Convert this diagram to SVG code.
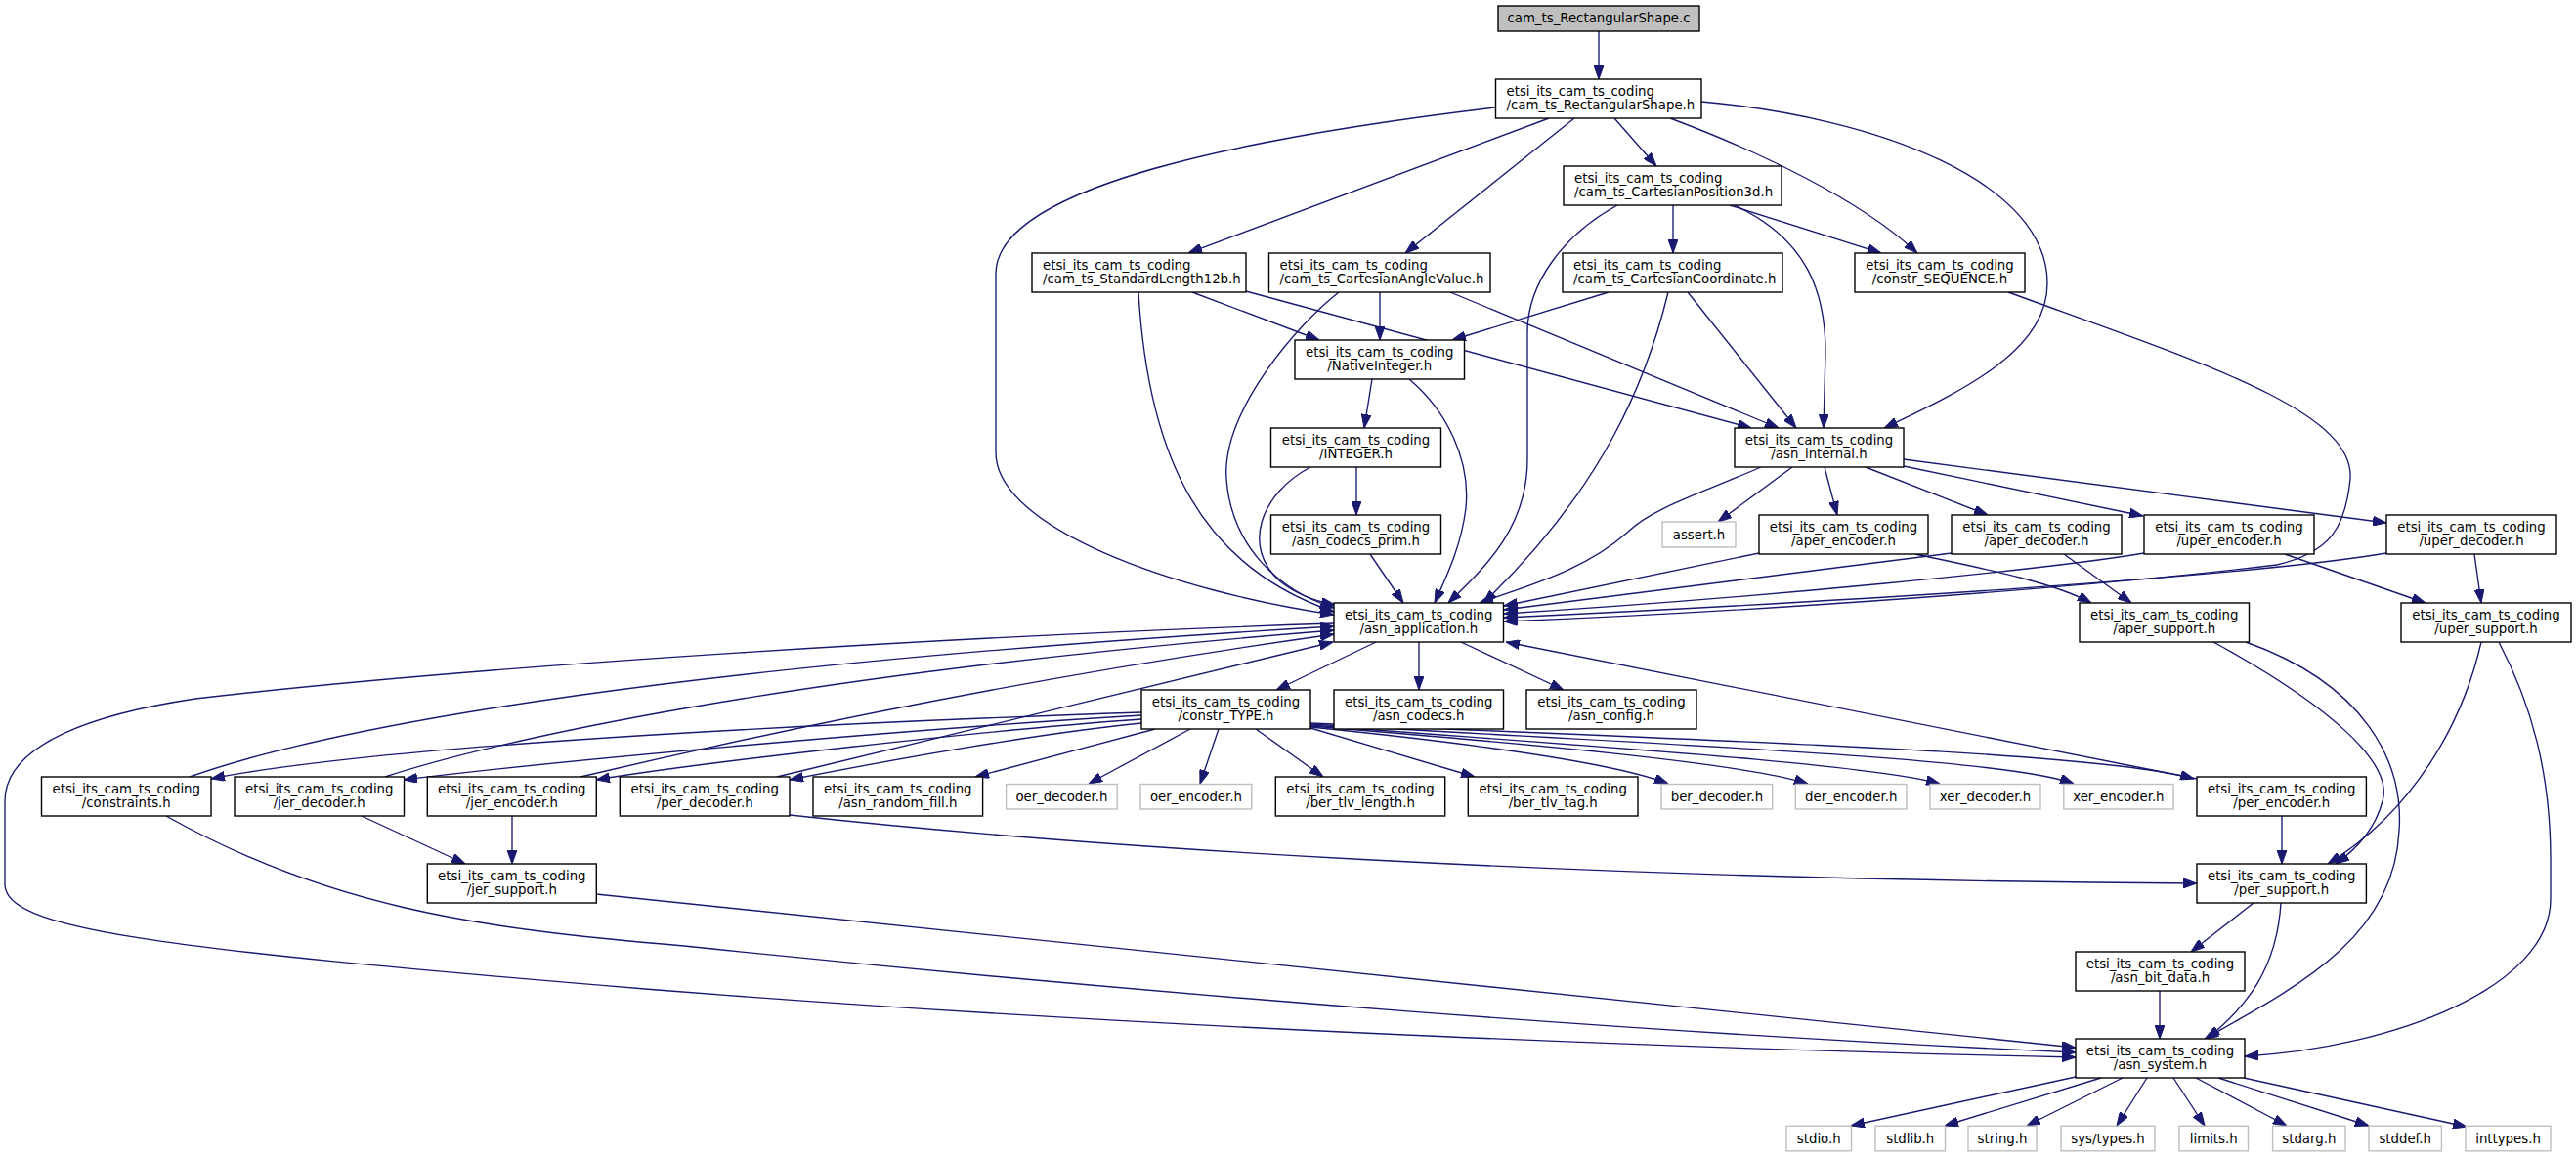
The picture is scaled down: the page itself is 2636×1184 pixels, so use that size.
<svg xmlns="http://www.w3.org/2000/svg" width="2636" height="1184" viewBox="0 0 2636 1184">
<defs>
<marker id="ah" markerWidth="14" markerHeight="10" refX="14" refY="5" orient="auto" markerUnits="userSpaceOnUse">
<path d="M0,0 L14,5 L0,10 z" fill="#191970" stroke="#191970" stroke-width="1"/>
</marker>
</defs>
<style>
.n{fill:#ffffff;stroke:#000000;stroke-width:1.4}
.g{fill:#ffffff;stroke:#bfbfbf;stroke-width:1.4}
.r{fill:#bfbfbf;stroke:#000000;stroke-width:1.4}
text{font-family:"DejaVu Sans","Liberation Sans",sans-serif;font-size:13.3px;fill:#000000}
.m{text-anchor:middle}
.s{text-anchor:start}
#edges path{fill:none;stroke:#191970;stroke-width:1.35;marker-end:url(#ah)}
</style>
<rect x="0" y="0" width="2636" height="1184" fill="#ffffff"/>
<g id="edges">
<path d="M1636,32 L1636,81"/>
<path d="M1530,110 C1280,140 1019,190 1019,280 L1019,463 C1019,540 1200,605 1365,629"/>
<path d="M1585,121 L1216,259"/>
<path d="M1611,121 L1438,259"/>
<path d="M1652,121 L1695,170"/>
<path d="M1709,121 C1800,155 1905,205 1962,259"/>
<path d="M1741,104 C1920,120 2095,185 2095,290 C2095,355 2020,395 1928,438"/>
<path d="M1655,210 C1600,240 1563,290 1563,340 L1563,470 C1563,540 1520,580 1482,617"/>
<path d="M1712,210 L1712,259"/>
<path d="M1770,210 L1925,259"/>
<path d="M1775,210 C1850,245 1868,300 1868,360 L1866,438"/>
<path d="M1220,299 L1350,348"/>
<path d="M1275,298 L1792,438"/>
<path d="M1165,299 C1175,470 1230,580 1365,626"/>
<path d="M1412,299 L1412,348"/>
<path d="M1484,299 L1820,438"/>
<path d="M1370,299 C1330,330 1250,420 1255,490 C1260,560 1310,605 1365,622"/>
<path d="M1646,299 L1486,348"/>
<path d="M1707,299 C1685,390 1640,500 1518,617"/>
<path d="M1727,299 L1838,438"/>
<path d="M2055,299 C2250,370 2410,420 2405,490 C2400,540 2385,565 2330,578 C2150,600 1800,626 1539,636"/>
<path d="M1404,388 L1396,438"/>
<path d="M1442,388 C1480,420 1505,470 1500,520 C1495,560 1480,590 1468,617"/>
<path d="M1388,478 L1388,527"/>
<path d="M1341,478 C1290,505 1270,560 1310,595 C1325,607 1345,615 1366,619"/>
<path d="M1402,567 L1436,617"/>
<path d="M1834,478 L1758,534"/>
<path d="M1867,478 L1880,527"/>
<path d="M1909,478 L2034,527"/>
<path d="M1948,477 L2193,528"/>
<path d="M1948,470 L2442,535"/>
<path d="M1802,478 C1740,505 1690,520 1665,545 C1620,585 1560,600 1514,617"/>
<path d="M1800,566 L1539,620"/>
<path d="M1960,567 C2020,580 2100,595 2140,617"/>
<path d="M1997,566 L1539,624"/>
<path d="M2112,567 L2181,617"/>
<path d="M2194,566 C2100,582 1800,612 1539,628"/>
<path d="M2338,567 L2482,617"/>
<path d="M2442,566 C2300,590 1900,615 1539,632"/>
<path d="M2532,567 L2539,617"/>
<path d="M1408,657 L1306,706"/>
<path d="M1452,657 L1452,706"/>
<path d="M1495,657 L1600,706"/>
<path d="M1365,638 C1000,650 500,680 200,715 C100,730 5,760 5,820 L5,905 C5,950 150,970 660,1012 C1200,1055 1800,1075 2124,1082"/>
<path d="M2265,657 C2380,720 2450,780 2438,820 C2430,850 2410,870 2390,884"/>
<path d="M2298,657 C2420,700 2460,780 2455,850 C2450,960 2350,1010 2256,1063"/>
<path d="M2539,657 C2520,740 2470,830 2382,884"/>
<path d="M2557,657 C2590,720 2610,790 2610,880 L2610,920 C2610,1010 2450,1072 2297,1081"/>
<path d="M1168,729 C900,738 400,760 216,797"/>
<path d="M1168,732 C950,745 600,775 413,798"/>
<path d="M1168,736 C1000,748 720,780 610,798"/>
<path d="M1168,740 C1050,752 900,780 808,798"/>
<path d="M1182,746 L998,795"/>
<path d="M1218,746 L1114,802"/>
<path d="M1247,746 L1228,802"/>
<path d="M1285,746 L1354,795"/>
<path d="M1341,745 L1509,795"/>
<path d="M1341,744 C1500,760 1650,780 1707,802"/>
<path d="M1341,743 C1550,760 1780,780 1850,802"/>
<path d="M1341,742 C1600,762 1900,780 1985,802"/>
<path d="M1341,741 C1700,762 2050,775 2122,802"/>
<path d="M1341,740 C1800,760 2150,770 2245,797"/>
<path d="M194,795 C350,740 700,680 1365,641"/>
<path d="M394,795 C500,760 800,690 1365,645"/>
<path d="M594,795 C700,770 1000,700 1365,649"/>
<path d="M795,795 L1364,657"/>
<path d="M2248,797 L1541,657"/>
<path d="M370,835 L476,884"/>
<path d="M524,835 L524,884"/>
<path d="M170,835 C330,925 480,950 700,968 C1200,1020 1700,1058 2124,1077"/>
<path d="M610,915 L2124,1072"/>
<path d="M808,834 C1100,866 1600,900 2248,904"/>
<path d="M2335,835 L2335,884"/>
<path d="M2306,924 L2242,974"/>
<path d="M2334,924 C2330,990 2300,1030 2258,1063"/>
<path d="M2210,1014 L2210,1063"/>
<path d="M2124,1102 L1894,1152"/>
<path d="M2150,1103 L1990,1152"/>
<path d="M2172,1103 L2074,1152"/>
<path d="M2197,1103 L2166,1152"/>
<path d="M2224,1103 L2256,1152"/>
<path d="M2247,1103 L2340,1152"/>
<path d="M2270,1103 L2424,1152"/>
<path d="M2296,1103 L2524,1153"/>
</g>
<g id="n_c"><rect class="r" x="1533" y="6" width="206" height="26"/><text class="m" x="1636" y="23">cam_ts_RectangularShape.c</text></g>
<g id="n_rsh"><rect class="n" x="1530.5" y="81" width="210.5" height="40"/><text class="s" x="1541.5" y="97.5">etsi_its_cam_ts_coding</text><text class="s" x="1541.5" y="111.5">/cam_ts_RectangularShape.h</text></g>
<g id="n_cp3"><rect class="n" x="1600" y="170" width="223" height="40"/><text class="s" x="1611" y="186.5">etsi_its_cam_ts_coding</text><text class="s" x="1611" y="200.5">/cam_ts_CartesianPosition3d.h</text></g>
<g id="n_sl"><rect class="n" x="1056" y="259" width="219" height="40"/><text class="s" x="1067" y="275.5">etsi_its_cam_ts_coding</text><text class="s" x="1067" y="289.5">/cam_ts_StandardLength12b.h</text></g>
<g id="n_cav"><rect class="n" x="1298.5" y="259" width="226.5" height="40"/><text class="s" x="1309.5" y="275.5">etsi_its_cam_ts_coding</text><text class="s" x="1309.5" y="289.5">/cam_ts_CartesianAngleValue.h</text></g>
<g id="n_cc"><rect class="n" x="1599" y="259" width="225" height="40"/><text class="s" x="1610" y="275.5">etsi_its_cam_ts_coding</text><text class="s" x="1610" y="289.5">/cam_ts_CartesianCoordinate.h</text></g>
<g id="n_seq"><rect class="n" x="1898" y="259" width="174" height="40"/><text class="m" x="1985" y="275.5">etsi_its_cam_ts_coding</text><text class="m" x="1985" y="289.5">/constr_SEQUENCE.h</text></g>
<g id="n_ni"><rect class="n" x="1325" y="348" width="173.5" height="40"/><text class="m" x="1411.75" y="364.5">etsi_its_cam_ts_coding</text><text class="m" x="1411.75" y="378.5">/NativeInteger.h</text></g>
<g id="n_int"><rect class="n" x="1300.5" y="438" width="174" height="40"/><text class="m" x="1387.5" y="454.5">etsi_its_cam_ts_coding</text><text class="m" x="1387.5" y="468.5">/INTEGER.h</text></g>
<g id="n_ai"><rect class="n" x="1775" y="438" width="173" height="40"/><text class="m" x="1861.5" y="454.5">etsi_its_cam_ts_coding</text><text class="m" x="1861.5" y="468.5">/asn_internal.h</text></g>
<g id="n_acp"><rect class="n" x="1300.5" y="527" width="174" height="40"/><text class="m" x="1387.5" y="543.5">etsi_its_cam_ts_coding</text><text class="m" x="1387.5" y="557.5">/asn_codecs_prim.h</text></g>
<g id="n_assert"><rect class="g" x="1701" y="534" width="75" height="26"/><text class="m" x="1738.5" y="551.5">assert.h</text></g>
<g id="n_aenc"><rect class="n" x="1800" y="527" width="173" height="40"/><text class="m" x="1886.5" y="543.5">etsi_its_cam_ts_coding</text><text class="m" x="1886.5" y="557.5">/aper_encoder.h</text></g>
<g id="n_adec"><rect class="n" x="1997" y="527" width="174" height="40"/><text class="m" x="2084" y="543.5">etsi_its_cam_ts_coding</text><text class="m" x="2084" y="557.5">/aper_decoder.h</text></g>
<g id="n_uenc"><rect class="n" x="2194" y="527" width="174" height="40"/><text class="m" x="2281" y="543.5">etsi_its_cam_ts_coding</text><text class="m" x="2281" y="557.5">/uper_encoder.h</text></g>
<g id="n_udec"><rect class="n" x="2442" y="527" width="174" height="40"/><text class="m" x="2529" y="543.5">etsi_its_cam_ts_coding</text><text class="m" x="2529" y="557.5">/uper_decoder.h</text></g>
<g id="n_app"><rect class="n" x="1365" y="617" width="173.5" height="40"/><text class="m" x="1451.75" y="633.5">etsi_its_cam_ts_coding</text><text class="m" x="1451.75" y="647.5">/asn_application.h</text></g>
<g id="n_asup"><rect class="n" x="2128" y="617" width="173.5" height="40"/><text class="m" x="2214.75" y="633.5">etsi_its_cam_ts_coding</text><text class="m" x="2214.75" y="647.5">/aper_support.h</text></g>
<g id="n_usup"><rect class="n" x="2457" y="617" width="174" height="40"/><text class="m" x="2544" y="633.5">etsi_its_cam_ts_coding</text><text class="m" x="2544" y="647.5">/uper_support.h</text></g>
<g id="n_type"><rect class="n" x="1168" y="706" width="173" height="40"/><text class="m" x="1254.5" y="722.5">etsi_its_cam_ts_coding</text><text class="m" x="1254.5" y="736.5">/constr_TYPE.h</text></g>
<g id="n_codecs"><rect class="n" x="1365" y="706" width="173.5" height="40"/><text class="m" x="1451.75" y="722.5">etsi_its_cam_ts_coding</text><text class="m" x="1451.75" y="736.5">/asn_codecs.h</text></g>
<g id="n_config"><rect class="n" x="1562" y="706" width="174" height="40"/><text class="m" x="1649" y="722.5">etsi_its_cam_ts_coding</text><text class="m" x="1649" y="736.5">/asn_config.h</text></g>
<g id="n_constraints"><rect class="n" x="42.5" y="795" width="173.5" height="40"/><text class="m" x="129.25" y="811.5">etsi_its_cam_ts_coding</text><text class="m" x="129.25" y="825.5">/constraints.h</text></g>
<g id="n_jerdec"><rect class="n" x="240" y="795" width="173.5" height="40"/><text class="m" x="326.75" y="811.5">etsi_its_cam_ts_coding</text><text class="m" x="326.75" y="825.5">/jer_decoder.h</text></g>
<g id="n_jerenc"><rect class="n" x="437.3" y="795" width="173" height="40"/><text class="m" x="523.8" y="811.5">etsi_its_cam_ts_coding</text><text class="m" x="523.8" y="825.5">/jer_encoder.h</text></g>
<g id="n_perdec"><rect class="n" x="634.3" y="795" width="173.7" height="40"/><text class="m" x="721.2" y="811.5">etsi_its_cam_ts_coding</text><text class="m" x="721.2" y="825.5">/per_decoder.h</text></g>
<g id="n_rand"><rect class="n" x="832" y="795" width="173.6" height="40"/><text class="m" x="918.8" y="811.5">etsi_its_cam_ts_coding</text><text class="m" x="918.8" y="825.5">/asn_random_fill.h</text></g>
<g id="n_oerdec"><rect class="g" x="1029.6" y="802.5" width="113.6" height="25.5"/><text class="m" x="1086.4" y="819.5">oer_decoder.h</text></g>
<g id="n_oerenc"><rect class="g" x="1167" y="802.5" width="113.8" height="25.5"/><text class="m" x="1223.9" y="819.5">oer_encoder.h</text></g>
<g id="n_tlvlen"><rect class="n" x="1305.3" y="795" width="173.4" height="40"/><text class="m" x="1392" y="811.5">etsi_its_cam_ts_coding</text><text class="m" x="1392" y="825.5">/ber_tlv_length.h</text></g>
<g id="n_tlvtag"><rect class="n" x="1502.3" y="795" width="173.7" height="40"/><text class="m" x="1589.2" y="811.5">etsi_its_cam_ts_coding</text><text class="m" x="1589.2" y="825.5">/ber_tlv_tag.h</text></g>
<g id="n_berdec"><rect class="g" x="1700" y="802.5" width="113.7" height="25.5"/><text class="m" x="1756.9" y="819.5">ber_decoder.h</text></g>
<g id="n_derenc"><rect class="g" x="1837.3" y="802.5" width="113.7" height="25.5"/><text class="m" x="1894.2" y="819.5">der_encoder.h</text></g>
<g id="n_xerdec"><rect class="g" x="1975" y="802.5" width="113" height="25.5"/><text class="m" x="2031.5" y="819.5">xer_decoder.h</text></g>
<g id="n_xerenc"><rect class="g" x="2111.8" y="802.5" width="112.2" height="25.5"/><text class="m" x="2167.9" y="819.5">xer_encoder.h</text></g>
<g id="n_perenc"><rect class="n" x="2248" y="795" width="173.4" height="40"/><text class="m" x="2334.7" y="811.5">etsi_its_cam_ts_coding</text><text class="m" x="2334.7" y="825.5">/per_encoder.h</text></g>
<g id="n_jersup"><rect class="n" x="437.3" y="884" width="173" height="40"/><text class="m" x="523.8" y="900.5">etsi_its_cam_ts_coding</text><text class="m" x="523.8" y="914.5">/jer_support.h</text></g>
<g id="n_persup"><rect class="n" x="2248" y="884" width="173.4" height="40"/><text class="m" x="2334.7" y="900.5">etsi_its_cam_ts_coding</text><text class="m" x="2334.7" y="914.5">/per_support.h</text></g>
<g id="n_bitdata"><rect class="n" x="2124" y="974" width="173" height="40"/><text class="m" x="2210.5" y="990.5">etsi_its_cam_ts_coding</text><text class="m" x="2210.5" y="1004.5">/asn_bit_data.h</text></g>
<g id="n_system"><rect class="n" x="2124" y="1063" width="173" height="40"/><text class="m" x="2210.5" y="1079.5">etsi_its_cam_ts_coding</text><text class="m" x="2210.5" y="1093.5">/asn_system.h</text></g>
<g id="n_stdio"><rect class="g" x="1828" y="1152.3" width="66.5" height="25.5"/><text class="m" x="1861.25" y="1169.5">stdio.h</text></g>
<g id="n_stdlib"><rect class="g" x="1919" y="1152.3" width="71.5" height="25.5"/><text class="m" x="1954.75" y="1169.5">stdlib.h</text></g>
<g id="n_string"><rect class="g" x="2014" y="1152.3" width="70" height="25.5"/><text class="m" x="2049" y="1169.5">string.h</text></g>
<g id="n_systypes"><rect class="g" x="2109" y="1152.3" width="96" height="25.5"/><text class="m" x="2157" y="1169.5">sys/types.h</text></g>
<g id="n_limits"><rect class="g" x="2230" y="1152.3" width="70.5" height="25.5"/><text class="m" x="2265.25" y="1169.5">limits.h</text></g>
<g id="n_stdarg"><rect class="g" x="2325.6" y="1152.3" width="74.4" height="25.5"/><text class="m" x="2362.8" y="1169.5">stdarg.h</text></g>
<g id="n_stddef"><rect class="g" x="2424" y="1152.3" width="74.4" height="25.5"/><text class="m" x="2461.2" y="1169.5">stddef.h</text></g>
<g id="n_inttypes"><rect class="g" x="2523" y="1152.3" width="87" height="25.5"/><text class="m" x="2566.5" y="1169.5">inttypes.h</text></g>
</svg>
